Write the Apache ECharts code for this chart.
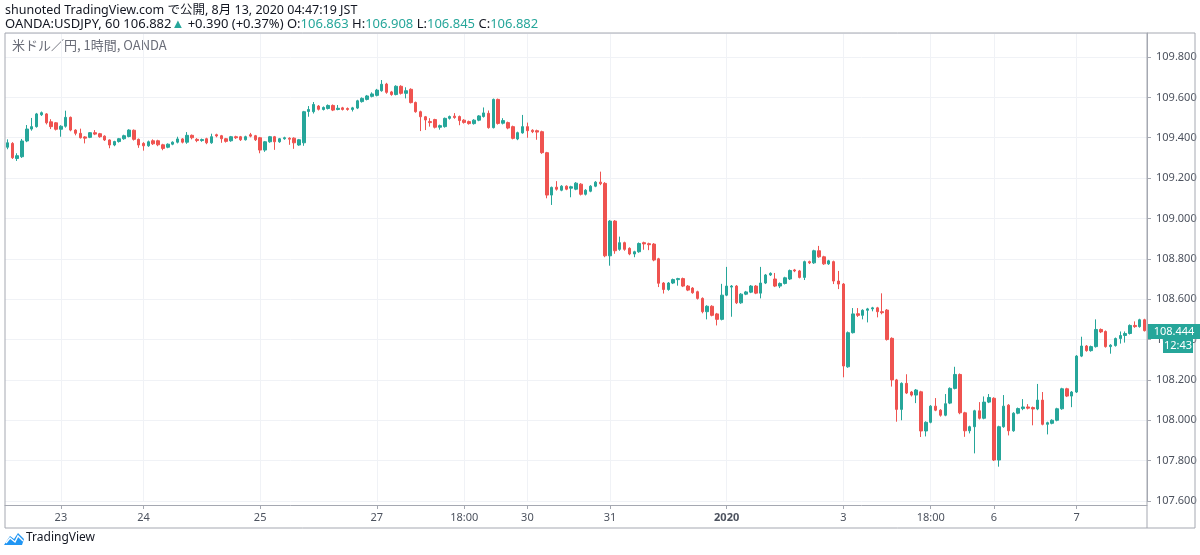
<!DOCTYPE html>
<html>
<head>
<meta charset="utf-8">
<title>USDJPY 60</title>
<script src="https://cdn.jsdelivr.net/npm/echarts@6/dist/echarts.min.js"></script>
<style>
  html, body { margin: 0; padding: 0; background: #fff; }
  #chart { width: 1200px; height: 555px; }
</style>
</head>
<body>
<div id="chart"></div>
<script>
// 1時間足 [open, close, low, high]
const candles = [
  [109.353,109.375,109.343,109.392],[109.372,109.301,109.295,109.378],[109.297,109.311,109.285,109.323],[109.306,109.384,109.300,109.394],
  [109.384,109.443,109.378,109.463],[109.443,109.455,109.435,109.498],[109.455,109.518,109.450,109.523],[109.514,109.524,109.508,109.530],
  [109.518,109.474,109.466,109.522],[109.479,109.455,109.443,109.492],[109.474,109.442,109.436,109.478],[109.442,109.457,109.405,109.462],
  [109.457,109.501,109.450,109.534],[109.501,109.438,109.432,109.505],[109.438,109.422,109.412,109.442],[109.422,109.400,109.396,109.445],
  [109.404,109.398,109.372,109.408],[109.402,109.425,109.398,109.428],[109.425,109.418,109.413,109.438],[109.420,109.405,109.400,109.424],
  [109.408,109.389,109.384,109.412],[109.389,109.364,109.348,109.392],[109.364,109.381,109.358,109.385],[109.381,109.395,109.376,109.399],
  [109.395,109.410,109.390,109.415],[109.406,109.438,109.402,109.442],[109.437,109.392,109.386,109.441],[109.392,109.364,109.350,109.396],
  [109.372,109.360,109.336,109.378],[109.360,109.380,109.355,109.386],[109.385,109.370,109.364,109.392],[109.385,109.365,109.358,109.390],
  [109.365,109.347,109.338,109.370],[109.353,109.368,109.348,109.372],[109.368,109.378,109.363,109.382],[109.378,109.394,109.372,109.405],
  [109.394,109.378,109.372,109.398],[109.378,109.412,109.370,109.428],[109.412,109.400,109.392,109.416],[109.392,109.386,109.378,109.398],
  [109.386,109.391,109.380,109.396],[109.395,109.375,109.368,109.400],[109.375,109.405,109.370,109.420],[109.415,109.409,109.402,109.420],
  [109.410,109.395,109.375,109.414],[109.395,109.382,109.376,109.399],[109.385,109.405,109.380,109.409],[109.405,109.400,109.394,109.410],
  [109.405,109.390,109.384,109.409],[109.390,109.405,109.386,109.410],[109.415,109.408,109.402,109.424],[109.410,109.390,109.384,109.414],
  [109.400,109.339,109.323,109.404],[109.339,109.380,109.330,109.384],[109.380,109.405,109.375,109.409],[109.405,109.380,109.340,109.409],
  [109.380,109.395,109.375,109.399],[109.395,109.400,109.390,109.405],[109.398,109.393,109.365,109.402],[109.398,109.375,109.345,109.402],
  [109.364,109.390,109.360,109.394],[109.375,109.529,109.360,109.533],[109.530,109.540,109.504,109.557],[109.529,109.565,109.520,109.577],
  [109.557,109.541,109.535,109.562],[109.540,109.550,109.535,109.555],[109.545,109.560,109.540,109.565],[109.560,109.537,109.532,109.565],
  [109.540,109.546,109.536,109.562],[109.548,109.540,109.535,109.553],[109.545,109.540,109.534,109.550],[109.540,109.548,109.530,109.553],
  [109.547,109.583,109.542,109.588],[109.579,109.595,109.574,109.600],[109.590,109.607,109.585,109.612],[109.605,109.617,109.600,109.625],
  [109.610,109.636,109.605,109.642],[109.633,109.665,109.628,109.686],[109.666,109.625,109.618,109.672],[109.627,109.614,109.608,109.632],
  [109.614,109.655,109.610,109.660],[109.655,109.620,109.614,109.660],[109.620,109.633,109.595,109.650],[109.640,109.574,109.570,109.645],
  [109.575,109.529,109.524,109.579],[109.529,109.504,109.433,109.534],[109.504,109.488,109.438,109.508],[109.480,109.475,109.455,109.497],
  [109.490,109.452,109.446,109.494],[109.452,109.460,109.440,109.465],[109.455,109.496,109.450,109.500],[109.496,109.505,109.490,109.510],
  [109.507,109.500,109.494,109.522],[109.505,109.485,109.462,109.510],[109.487,109.476,109.470,109.492],[109.480,109.470,109.465,109.485],
  [109.470,109.487,109.465,109.492],[109.487,109.508,109.482,109.512],[109.505,109.523,109.500,109.550],[109.521,109.450,109.445,109.535],
  [109.450,109.590,109.446,109.594],[109.590,109.471,109.465,109.594],[109.472,109.485,109.466,109.497],[109.475,109.448,109.442,109.480],
  [109.455,109.397,109.392,109.460],[109.394,109.425,109.388,109.430],[109.424,109.455,109.420,109.513],[109.455,109.435,109.400,109.475],
  [109.437,109.430,109.423,109.442],[109.435,109.428,109.390,109.440],[109.430,109.326,109.320,109.435],[109.326,109.116,109.100,109.330],
  [109.116,109.154,109.067,109.158],[109.155,109.145,109.138,109.185],[109.140,109.160,109.135,109.165],[109.160,109.145,109.140,109.164],
  [109.150,109.157,109.105,109.162],[109.145,109.175,109.140,109.180],[109.170,109.120,109.114,109.175],[109.120,109.140,109.114,109.145],
  [109.135,109.160,109.130,109.165],[109.160,109.180,109.155,109.185],[109.180,109.172,109.165,109.232],[109.174,108.815,108.808,109.180],
  [108.815,108.987,108.766,108.992],[108.987,108.840,108.825,108.992],[108.847,108.880,108.840,108.910],[108.880,108.847,108.840,108.885],
  [108.852,108.824,108.818,108.857],[108.824,108.835,108.808,108.840],[108.835,108.876,108.830,108.881],[108.880,108.874,108.845,108.885],
  [108.875,108.870,108.843,108.880],[108.873,108.794,108.788,108.878],[108.800,108.679,108.660,108.805],[108.680,108.648,108.628,108.685],
  [108.648,108.680,108.642,108.685],[108.680,108.697,108.675,108.702],[108.697,108.702,108.667,108.706],[108.702,108.665,108.660,108.707],
  [108.665,108.645,108.640,108.670],[108.655,108.632,108.627,108.660],[108.637,108.604,108.598,108.642],[108.604,108.538,108.530,108.609],
  [108.538,108.565,108.500,108.570],[108.565,108.520,108.515,108.570],[108.527,108.500,108.470,108.532],[108.500,108.620,108.495,108.676],
  [108.620,108.665,108.615,108.760],[108.660,108.665,108.513,108.670],[108.665,108.582,108.576,108.670],[108.582,108.625,108.577,108.630],
  [108.625,108.636,108.620,108.641],[108.635,108.665,108.630,108.670],[108.665,108.630,108.625,108.670],[108.630,108.680,108.604,108.760],
  [108.680,108.720,108.675,108.725],[108.720,108.728,108.715,108.733],[108.700,108.665,108.660,108.730],[108.665,108.678,108.655,108.683],
  [108.678,108.706,108.673,108.711],[108.700,108.742,108.695,108.747],[108.745,108.740,108.734,108.750],[108.740,108.708,108.703,108.745],
  [108.708,108.786,108.695,108.791],[108.786,108.780,108.774,108.791],[108.780,108.840,108.775,108.845],[108.840,108.810,108.805,108.864],
  [108.810,108.775,108.770,108.815],[108.775,108.790,108.770,108.795],[108.786,108.690,108.675,108.791],[108.690,108.675,108.650,108.740],
  [108.675,108.269,108.213,108.680],[108.265,108.434,108.260,108.440],[108.434,108.527,108.430,108.556],[108.528,108.520,108.512,108.556],
  [108.520,108.545,108.500,108.550],[108.545,108.552,108.485,108.557],[108.552,108.557,108.540,108.562],[108.557,108.538,108.510,108.562],
  [108.538,108.533,108.525,108.629],[108.546,108.400,108.395,108.551],[108.406,108.200,108.167,108.411],[108.200,108.054,107.993,108.205],
  [108.054,108.183,108.000,108.188],[108.183,108.135,108.130,108.228],[108.140,108.125,108.118,108.145],[108.125,108.150,108.085,108.155],
  [108.141,107.947,107.917,108.146],[107.947,107.990,107.920,107.995],[107.990,108.070,107.985,108.075],[108.070,108.050,108.045,108.110],
  [108.050,108.025,108.018,108.055],[108.025,108.082,108.020,108.130],[108.085,108.158,108.080,108.163],[108.158,108.227,108.153,108.265],
  [108.227,108.037,108.030,108.232],[108.037,107.948,107.918,108.042],[107.948,107.968,107.935,107.973],[107.968,108.047,107.836,108.052],
  [108.047,108.010,108.004,108.090],[108.010,108.090,108.005,108.118],[108.090,108.113,108.085,108.130],[108.109,107.803,107.798,108.114],
  [107.803,107.968,107.770,107.973],[107.968,108.070,107.963,108.125],[108.075,107.948,107.925,108.080],[107.948,108.035,107.943,108.040],
  [108.035,108.058,108.030,108.063],[108.058,108.066,108.050,108.105],[108.066,108.060,108.054,108.080],[108.063,108.056,107.975,108.068],
  [108.056,108.100,108.050,108.180],[108.100,107.980,107.975,108.140],[107.980,107.988,107.930,107.993],[107.985,108.000,107.980,108.005],
  [108.000,108.057,107.995,108.062],[108.057,108.156,108.052,108.161],[108.156,108.120,108.115,108.161],[108.120,108.140,108.065,108.145],
  [108.140,108.318,108.135,108.323],[108.318,108.368,108.313,108.414],[108.368,108.345,108.340,108.373],[108.345,108.365,108.340,108.370],
  [108.365,108.450,108.360,108.500],[108.450,108.438,108.432,108.455],[108.440,108.365,108.360,108.445],[108.365,108.372,108.330,108.377],
  [108.370,108.405,108.365,108.410],[108.405,108.420,108.380,108.440],[108.420,108.430,108.385,108.440],[108.430,108.470,108.425,108.475],
  [108.470,108.464,108.458,108.490],[108.464,108.498,108.459,108.503],[108.498,108.444,108.440,108.503]
];

// 時間軸ラベル（ローソク足のインデックス）
const tickIdx  = [11, 28, 52, 76, 94, 107, 124, 148, 172, 190, 203, 220];
const tickText = ['23', '24', '25', '27', '18:00', '30', '31', '2020', '3', '18:00', '6', '7'];

const lastPrice = 108.444;
const countdown = '12:43';

const UP = '#26a69a';
const DOWN = '#ef5350';
const FRAME = '#a5a8b1';
const GRIDLINE = '#f0f2f6';
const FONT = '"Noto Sans", "Noto Sans CJK JP", sans-serif';

const categories = candles.map((_, i) => {
  const k = tickIdx.indexOf(i);
  return k >= 0 ? tickText[k] : '';
});
const showTick = (i) => tickIdx.indexOf(i) >= 0;

const chart = echarts.init(document.getElementById('chart'), null, { renderer: 'canvas' });

const option = {
  animation: false,
  backgroundColor: '#ffffff',
  grid: { left: 5, top: 33, width: 1142, height: 468, containLabel: false },
  xAxis: {
    type: 'category',
    data: categories,
    boundaryGap: true,
    offset: 4,
    axisLine: { show: true, lineStyle: { color: FRAME, width: 1 } },
    axisTick: { show: true, alignWithLabel: true, length: 4, interval: showTick, lineStyle: { color: FRAME } },
    axisLabel: {
      interval: showTick,
      margin: 7,
      color: '#4c525e',
      fontSize: 11,
      fontFamily: FONT,
      formatter: (v) => (v === '2020' ? '{b|2020}' : v),
      rich: { b: { fontWeight: 'bold', fontSize: 11, color: '#4c525e', fontFamily: FONT } }
    },
    splitLine: { show: true, alignWithLabel: true, interval: showTick, lineStyle: { color: GRIDLINE, width: 1 } }
  },
  yAxis: {
    type: 'value',
    position: 'right',
    scale: true,
    min: 107.6,
    max: 109.919,
    interval: 0.2,
    axisLine: { show: true, lineStyle: { color: FRAME } },
    axisTick: { show: true, length: 4, lineStyle: { color: FRAME } },
    axisLabel: {
      margin: 9,
      color: '#4c525e',
      fontSize: 11,
      fontFamily: FONT,
      showMaxLabel: false,
      formatter: (v) => v.toFixed(3)
    },
    splitLine: { show: true, lineStyle: { color: GRIDLINE, width: 1 } }
  },
  series: [{
    type: 'candlestick',
    data: candles,
    barWidth: 3,
    itemStyle: {
      color: UP,
      color0: DOWN,
      borderColor: UP,
      borderColor0: DOWN,
      borderWidth: 1
    }
  }],
  graphic: []
};

chart.setOption(option);

// 価格ラベルなどは軸の座標変換で配置
const py = chart.convertToPixel({ gridIndex: 0 }, [0, lastPrice])[1];

chart.setOption({
  graphic: [
    // 外枠
    { type: 'rect', shape: { x: 5, y: 33, width: 1190, height: 495 }, style: { fill: null, stroke: FRAME, lineWidth: 1 }, silent: true, z: 10 },
    { type: 'line', shape: { x1: 1147, y1: 33, x2: 1147, y2: 528 }, style: { stroke: FRAME, lineWidth: 1 }, silent: true, z: 10 },
    // ヘッダー
    { type: 'text', left: 5, top: 4, style: {
      text: 'shunoted TradingView.com で公開, 8月 13, 2020 04:47:19 JST',
      fill: '#131722', font: '12.5px "Noto Sans", "Noto Sans CJK JP", sans-serif' } },
    { type: 'text', left: 5, top: 18, style: {
      text: '{d|OANDA:USDJPY, 60 106.882}{g|▲}{d| +0.390 (+0.37%) O:}{g|106.863}{d| H:}{g|106.908}{d| L:}{g|106.845}{d| C:}{g|106.882}',
      rich: {
        d: { fill: '#131722', font: '13px "Noto Sans", sans-serif' },
        g: { fill: UP, font: '13px "Noto Sans", sans-serif' }
      } } },
    { type: 'text', left: 12, top: 39, style: {
      text: '米ドル／円, 1時間, OANDA', fill: '#6a6d78', font: '13px "Noto Sans CJK JP", sans-serif' } },
    // 現在値ラベル
    { type: 'rect', shape: { x: 1148, y: Math.round(py) - 7, width: 52, height: 15 }, style: { fill: UP }, z: 20 },
    { type: 'text', x: 1174, y: Math.round(py) + 0.5, style: {
      text: lastPrice.toFixed(3), fill: '#ffffff', font: '11px "Noto Sans", sans-serif', align: 'center', verticalAlign: 'middle' }, z: 21 },
    { type: 'rect', shape: { x: 1163, y: Math.round(py) + 8, width: 30, height: 14 }, style: { fill: UP }, z: 20 },
    { type: 'text', x: 1178, y: Math.round(py) + 15, style: {
      text: countdown, fill: '#ffffff', font: '11px "Noto Sans", sans-serif', align: 'center', verticalAlign: 'middle' }, z: 21 },
    // TradingView ロゴ
    { type: 'polygon', shape: { points: [[4, 545], [10, 536], [14, 539], [18, 533], [24, 539], [22, 545]] }, style: { fill: '#2196f3' } },
    { type: 'polyline', shape: { points: [[6, 543], [10, 538], [15, 542], [18, 536], [23, 541]] }, style: { stroke: '#ffffff', lineWidth: 1.4, fill: null }, z: 2 },
    { type: 'text', left: 26, top: 532, style: { text: 'TradingView', fill: '#131722', font: '12px "Noto Sans", sans-serif' } }
  ]
});
</script>
</body>
</html>
